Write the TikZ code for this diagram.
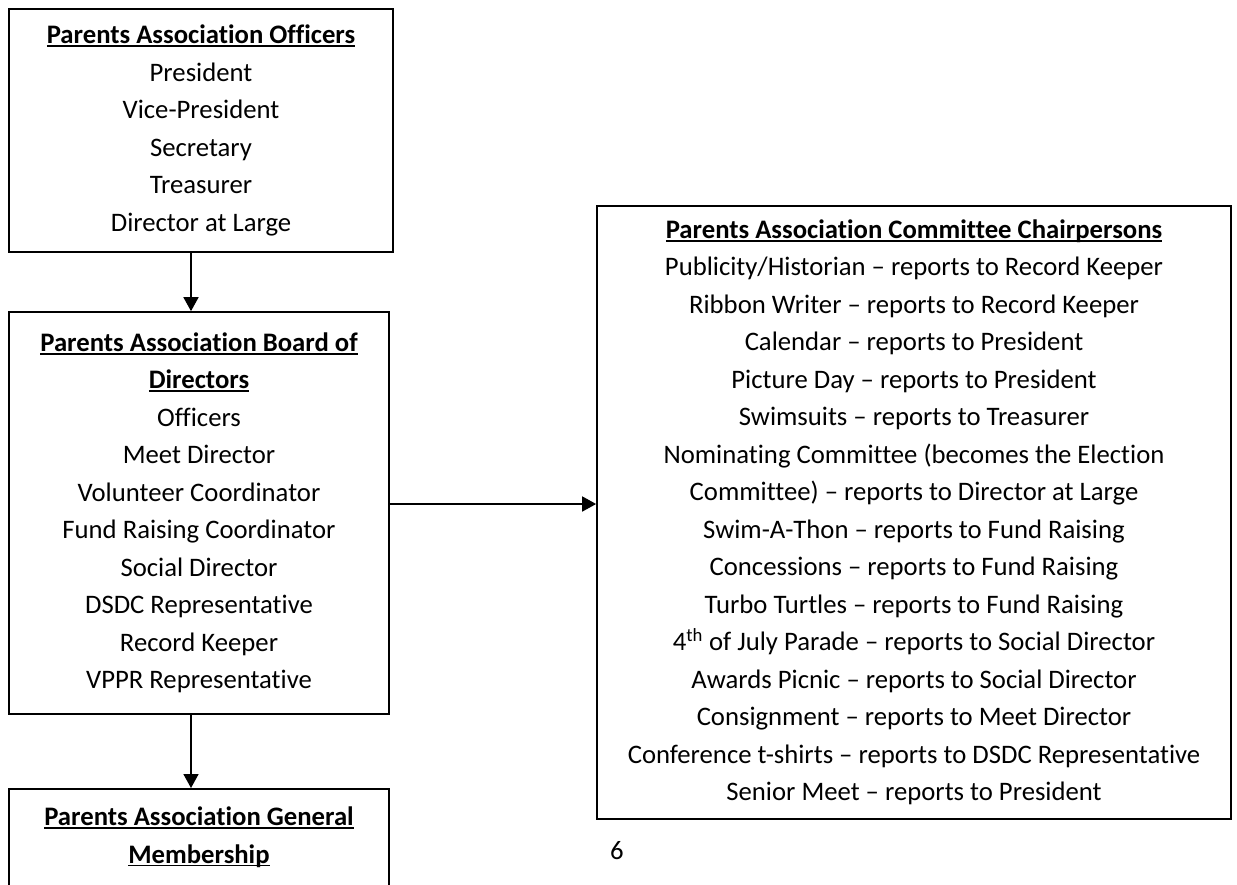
\documentclass[tikz,border=0pt]{standalone}
\usepackage{fontspec}
\setmainfont{Carlito}[Ligatures={NoCommon}]
\usetikzlibrary{arrows.meta}
\newcommand\ultext[1]{\setbox0\hbox{#1}\rlap{\rule[-0.12em]{\wd0}{0.07em}}\box0}
\begin{document}
\begin{tikzpicture}[x=1pt,y=-1pt,
  font=\fontsize{26.7}{37.5}\selectfont,
  box/.style={draw, line width=1.7pt, inner sep=0pt, align=center},
  arr/.style={line width=1.7pt, -{Triangle[width=15pt,length=14pt]}}]
\clip (0,0) rectangle (1237,884);
\useasboundingbox (0,0) rectangle (1237,884);
\node[box, minimum width=384, minimum height=243] (off) at (201,130.5)
 {\textbf{\ultext{Parents Association Officers}}\\President\\Vice-President\\Secretary\\Treasurer\\Director at Large};
\node[box, minimum width=380, minimum height=402] (bod) at (199,513)
 {\textbf{\ultext{Parents Association Board of}}\\\textbf{\ultext{Directors}}\\Officers\\Meet Director\\Volunteer Coordinator\\Fund Raising Coordinator\\Social Director\\DSDC Representative\\Record Keeper\\VPPR Representative};
\node[box, minimum width=380, minimum height=130, anchor=north] (gen) at (199,788)
 {\textbf{\ultext{Parents Association General}}\\\textbf{\ultext{Membership}}\\\mbox{}};
\node[box, minimum width=634, minimum height=613] (com) at (914,512.5)
 {\textbf{\ultext{Parents Association Committee Chairpersons}}\\
 Publicity/Historian – reports to Record Keeper\\
 Ribbon Writer – reports to Record Keeper\\
 Calendar – reports to President\\
 Picture Day – reports to President\\
 Swimsuits – reports to Treasurer\\
 Nominating Committee (becomes the Election\\
 Committee) – reports to Director at Large\\
 Swim-A-Thon – reports to Fund Raising\\
 Concessions – reports to Fund Raising\\
 Turbo Turtles – reports to Fund Raising\\
 4\textsuperscript{th} of July Parade – reports to Social Director\\
 Awards Picnic – reports to Social Director\\
 Consignment – reports to Meet Director\\
 Conference t-shirts – reports to DSDC Representative\\
 Senior Meet – reports to President};
\node (pg) at (617,851) {6};
\draw[arr] ([xshift=-10pt]off.south) -- ([xshift=-8pt]bod.north);
\draw[arr] ([xshift=-8pt]bod.south) -- ([xshift=-8pt]gen.north);
\draw[arr] ([yshift=9pt]bod.east) -- ([yshift=9pt]bod.east -| com.west);
\end{tikzpicture}
\end{document}
